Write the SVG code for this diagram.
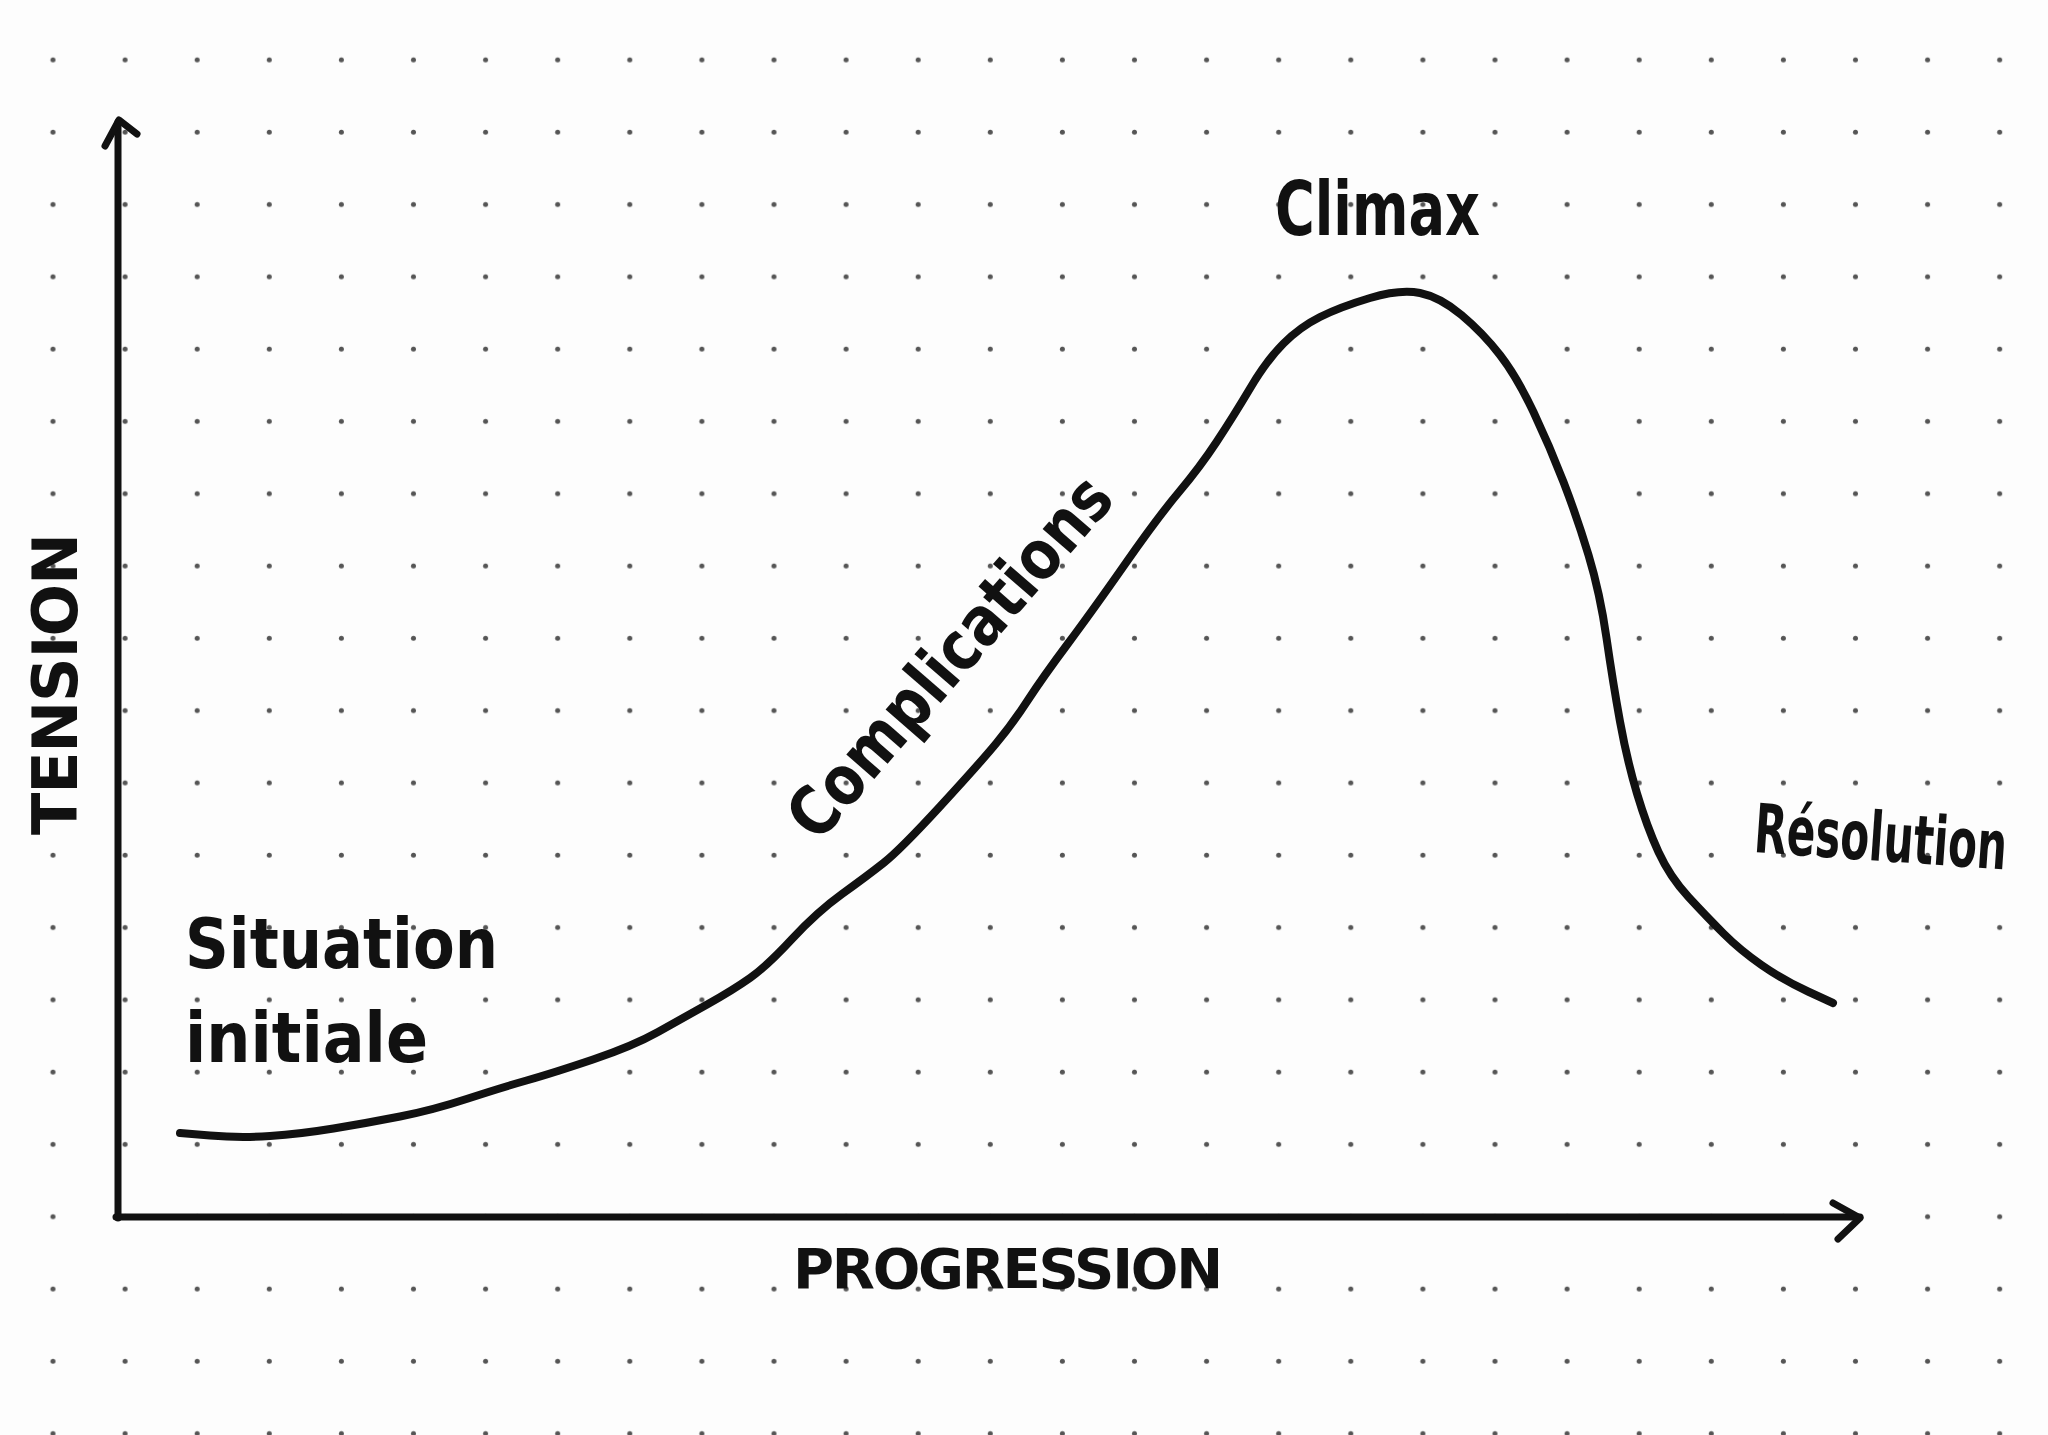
<svg xmlns="http://www.w3.org/2000/svg" width="2048" height="1435" viewBox="0 0 2048 1435">
  <style>
    .ink { fill: none; stroke: #111; stroke-linecap: round; stroke-linejoin: round; }
    .axis { stroke-width: 7; }
    .curve { stroke-width: 8; }
    .hand { font-family: "DejaVu Sans", "Liberation Sans", sans-serif; font-weight: bold; fill: #111; }
  </style>
  <defs>
    <pattern id="dots" patternUnits="userSpaceOnUse" x="17" y="24" width="72.1" height="72.3">
      <circle cx="36" cy="36" r="2.5" fill="#555"/>
    </pattern>
  </defs>
  <rect width="2048" height="1435" fill="#fdfdfd"/>
  <rect width="2048" height="1435" fill="url(#dots)"/>

  <g id="connectors">
    <g id="y-axis">
      <path class="ink axis" d="M118,1218 L118,122"/>
      <path class="ink axis" d="M105,146 L119,120 L137,134"/>
    </g>
    <g id="x-axis">
      <path class="ink axis" d="M116,1217 L1860,1217"/>
      <path class="ink axis" d="M1833,1203 L1860,1218 L1838,1239"/>
    </g>
    <path id="tension-curve" class="ink curve" d="M180,1133 L210,1135.5 Q240,1138 270,1136 Q300,1134 333.5,1128.5 Q367,1123 400,1116.5 Q433,1110 466.5,1099 Q500,1088 526.5,1080.5 Q553,1073 593,1059.5 Q633,1046 658,1032 Q683,1018 708,1004 Q733,990 750,978 Q767,966 792,939 Q817,912 842,894 Q867,876 883.5,863 Q900,850 940,806.5 Q980,763 996.5,743 Q1013,723 1028,700 Q1043,677 1068,643.5 Q1093,610 1125.5,563.5 Q1158,517 1179,492 Q1200,467 1216.5,442 Q1233,417 1250,388.5 Q1267,360 1283.5,343.5 Q1300,327 1320,317 Q1340,307 1370,298 Q1400,289 1420,293 Q1440,297 1461.5,315 Q1483,333 1500,355 Q1517,377 1533.5,412 Q1550,447 1563.5,482 Q1577,517 1588.5,555 Q1600,593 1606.5,638 Q1613,683 1620,721.5 Q1627,760 1637,793.5 Q1647,827 1658.5,852 Q1670,877 1688.5,897 Q1707,917 1723.5,933.5 Q1740,950 1761.5,965 Q1783,980 1808,991.5 L1833,1003"/>
  </g>

  <g id="situation-initiale">
    <text class="hand" x="185" y="968" font-size="70" textLength="313" lengthAdjust="spacingAndGlyphs">Situation</text>
    <text class="hand" x="185" y="1062" font-size="70" textLength="243" lengthAdjust="spacingAndGlyphs">initiale</text>
  </g>
  <g id="complications">
    <text class="hand" transform="translate(818,844) rotate(-49)" font-size="68" textLength="455" lengthAdjust="spacingAndGlyphs">Complications</text>
  </g>
  <g id="climax">
    <text class="hand" x="1275" y="235" font-size="74" textLength="205" lengthAdjust="spacingAndGlyphs">Climax</text>
  </g>
  <g id="resolution">
    <text class="hand" transform="translate(1753,852) rotate(4) scale(0.62,1)" font-size="68">Résolution</text>
  </g>
  <g id="tension-label">
    <text class="hand" transform="translate(77,835) rotate(-90)" font-size="62" textLength="302">TENSION</text>
  </g>
  <g id="progression-label">
    <text class="hand" x="793" y="1288" font-size="56" textLength="430">PROGRESSION</text>
  </g>
</svg>
